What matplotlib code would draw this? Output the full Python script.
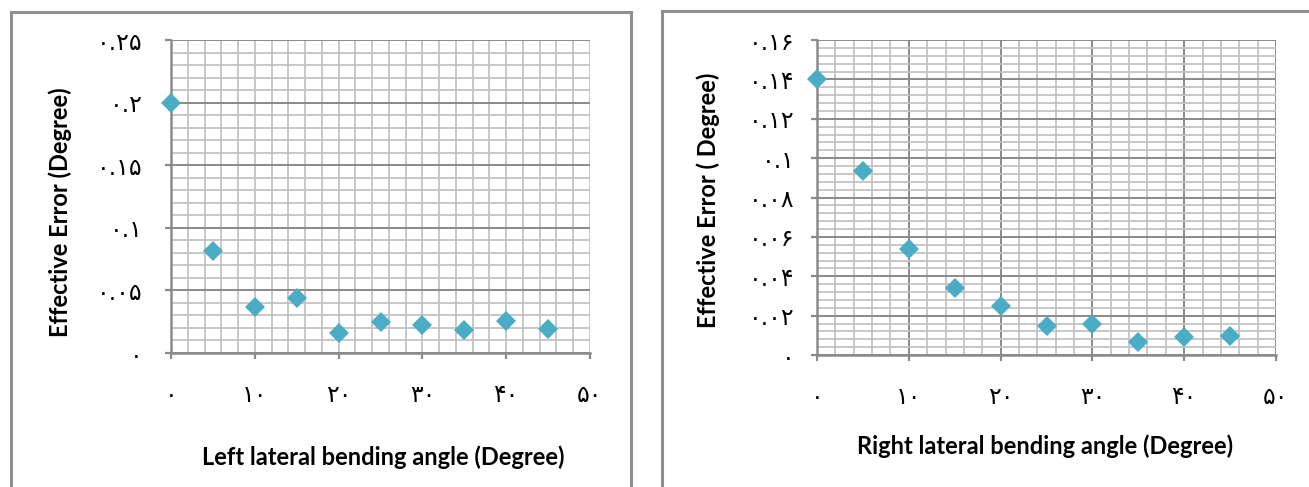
import matplotlib
matplotlib.use("Agg")
import matplotlib.pyplot as plt
from matplotlib.ticker import MultipleLocator, FixedLocator
from matplotlib.lines import Line2D

# ---------------- data ----------------
angles = [0, 5, 10, 15, 20, 25, 30, 35, 40, 45]
left_err = [0.200, 0.0815, 0.0367, 0.0440, 0.0160, 0.0248, 0.0224, 0.0180, 0.0256, 0.0190]
right_err = [0.140, 0.0935, 0.0540, 0.0340, 0.0250, 0.0147, 0.0157, 0.0066, 0.0091, 0.0096]

x_ticks = [0, 10, 20, 30, 40, 50]
x_tick_labels = ["۰", "۱۰", "۲۰", "۳۰", "۴۰", "۵۰"]
left_y_ticks = [0, 0.05, 0.10, 0.15, 0.20, 0.25]
left_y_labels = ["۰", "۰.۰۵", "۰.۱", "۰.۱۵", "۰.۲", "۰.۲۵"]
right_y_ticks = [0, 0.02, 0.04, 0.06, 0.08, 0.10, 0.12, 0.14, 0.16]
right_y_labels = ["۰", "۰.۰۲", "۰.۰۴", "۰.۰۶", "۰.۰۸", "۰.۱", "۰.۱۲", "۰.۱۴", "۰.۱۶"]

left_xlabel = "Left lateral bending angle (Degree)"
right_xlabel = "Right lateral bending angle (Degree)"
left_ylabel = "Effective Error (Degree)"
right_ylabel = "Effective Error ( Degree)"

W, H = 1309, 487
fig = plt.figure(figsize=(W / 100, H / 100), dpi=100)

MARK = "#4BACC6"
MAJ = "#8a8a8a"
MIN = "#c3c3c3"
LABEL_FONT = ["Lato", "DejaVu Sans"]
TICK_FONT = ["DejaVu Sans"]


def px_rect(x0, y0, x1, y1):
    return [x0 / W, 1 - y1 / H, (x1 - x0) / W, (y1 - y0) / H]


def setup(ax, yticks, ylabels, ymax, yminor, xmajor_dark, xpad, ypad):
    ax.set_xlim(0, 50)
    ax.set_ylim(0, ymax)
    ax.xaxis.set_major_locator(FixedLocator(x_ticks))
    ax.xaxis.set_minor_locator(MultipleLocator(2))
    ax.yaxis.set_major_locator(FixedLocator(yticks))
    ax.yaxis.set_minor_locator(MultipleLocator(yminor))
    ax.set_xticklabels(x_tick_labels, family=TICK_FONT, fontsize=17)
    ax.set_yticklabels(ylabels, family=TICK_FONT, fontsize=17)
    ax.grid(which="minor", axis="both", color=MIN, linewidth=1.3)
    ax.grid(which="major", axis="y", color=MAJ, linewidth=1.4)
    ax.grid(which="major", axis="x", color=MAJ if xmajor_dark else MIN,
            linewidth=1.4 if xmajor_dark else 1.3)
    ax.set_axisbelow(True)
    for s in ["top", "right"]:
        ax.spines[s].set_visible(False)
    for s in ["left", "bottom"]:
        ax.spines[s].set_color(MAJ)
        ax.spines[s].set_linewidth(1.8)
        ax.spines[s].set_zorder(1.5)
    ax.tick_params(which="minor", length=0)
    ax.tick_params(which="major", axis="x", direction="out", length=4.5,
                   width=1.6, color=MAJ, pad=xpad)
    ax.tick_params(which="major", axis="y", direction="out", length=4.5,
                   width=1.6, color=MAJ, pad=ypad)


def labels(ax, xl, yl, xpos, ypos):
    ax.set_xlabel(xl, family=LABEL_FONT, fontweight="bold", fontsize=17)
    ax.set_ylabel(yl, family=LABEL_FONT, fontweight="bold", fontsize=17)
    ax.xaxis.label.set_va("center")
    ax.yaxis.label.set_va("center")
    ax.xaxis.set_label_coords(*xpos)
    ax.yaxis.set_label_coords(*ypos)


# left chart
ax1 = fig.add_axes(px_rect(171, 40, 590, 353))
setup(ax1, left_y_ticks, left_y_labels, 0.25, 0.01, False, 17, 16)
ax1.plot(angles, left_err, linestyle="none", marker="D", markersize=10,
         color=MARK, markeredgewidth=0, clip_on=False, zorder=3)
labels(ax1, left_xlabel, left_ylabel, (0.506, -0.332), (-0.265, 0.45))

# right chart
ax2 = fig.add_axes(px_rect(817, 40, 1276, 355))
setup(ax2, right_y_ticks, right_y_labels, 0.16, 0.004, True, 17, 11.5)
ax2.plot(angles, right_err, linestyle="none", marker="D", markersize=10,
         color=MARK, markeredgewidth=0, clip_on=False, zorder=3)
labels(ax2, right_xlabel, right_ylabel, (0.497, -0.289), (-0.237, 0.492))

# panel borders
BOX = "#8f8f8f"
def fline(xs, ys):
    fig.add_artist(Line2D([x / W for x in xs], [1 - y / H for y in ys],
                          color=BOX, linewidth=2.2))

fline([11, 11], [12, 490])
fline([11, 631], [12, 12])
fline([631, 631], [12, 490])
fline([662, 662], [11, 490])
fline([662, 1312], [11, 11])

fig.savefig("out.png", dpi=100)
